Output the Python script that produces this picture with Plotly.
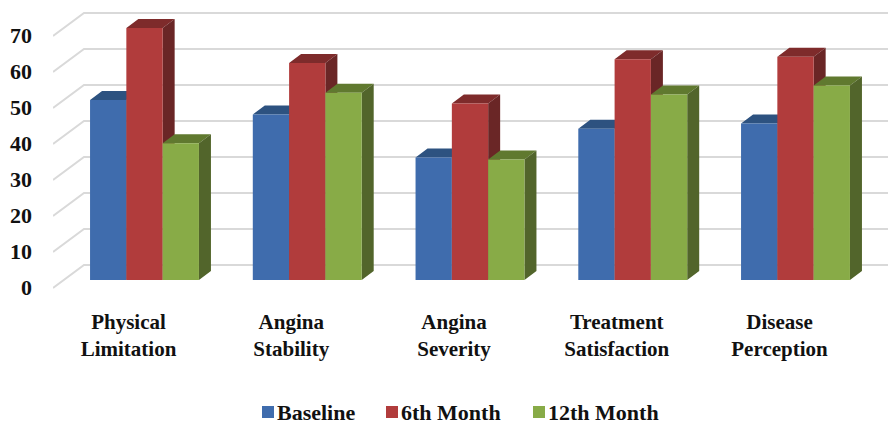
import plotly.graph_objects as go

# Survey domains and scores per follow-up time
categories = ["Physical<br>Limitation", "Angina<br>Stability", "Angina<br>Severity",
              "Treatment<br>Satisfaction", "Disease<br>Perception"]
baseline = [50, 46, 34, 42, 43.5]
month_6 = [70, 60.3, 49, 61.3, 62]
month_12 = [38, 52, 33.5, 51.5, 54]
y_ticks = [0, 10, 20, 30, 40, 50, 60, 70]

W, H = 888, 424
PITCH = 162.75            # pixels between category centres
CENTER0 = 144.5           # pixel of the first category centre
PX_PER_UNIT = 3.6         # pixels per score unit
BASE_PX = 280             # pixel row of score 0 on the bars' front plane
LEFT, BOTTOM = 53, 290    # plot area limits in pixels

x_lo = (LEFT - CENTER0) / PITCH
x_hi = (W - CENTER0) / PITCH
y_lo = (BASE_PX - BOTTOM) / PX_PER_UNIT
y_hi = BASE_PX / PX_PER_UNIT

BAR_W = 36.3 / PITCH      # width of one bar in category units
DEPTH_X = 12 / PITCH      # oblique depth of a bar
DEPTH_Y = 9 / PX_PER_UNIT
WALL_BACK_X = (84 - CENTER0) / PITCH
WALL_BACK_Y = (BASE_PX - 265) / PX_PER_UNIT
WALL_FRONT_Y = (BASE_PX - 288) / PX_PER_UNIT
TICK_Y = (BASE_PX - 287) / PX_PER_UNIT
LABEL_SHIFT = -16 / PITCH

series = [
    ("Baseline", baseline, "#3f6cad", "#2d5280", "#2b4a74"),
    ("6th Month", month_6, "#b13c3c", "#7e2b2b", "#6a2626"),
    ("12th Month", month_12, "#88ab47", "#60792f", "#52652b"),
]

fig = go.Figure()

# Floor edge and back wall gridlines
grid_x, grid_y = [], []
for v in y_ticks:
    grid_x += [x_lo, WALL_BACK_X, x_hi, None]
    grid_y += [v + WALL_FRONT_Y, v + WALL_BACK_Y, v + WALL_BACK_Y, None]
fig.add_trace(go.Scatter(x=grid_x, y=grid_y, mode="lines", showlegend=False, hoverinfo="skip",
                         line=dict(color="#d9d9d9", width=2)))


def face(xs, ys, color, name):
    fig.add_trace(go.Scatter(x=xs, y=ys, mode="lines", fill="toself", fillcolor=color,
                             line=dict(width=0, color=color), name=name,
                             showlegend=False, hoverinfo="skip"))


# Series are painted left to right so each bar hides the sides of its left neighbour
for s, (name, values, front, top, side) in enumerate(series):
    fx, fy, tx, ty, sx, sy = [], [], [], [], [], []
    for i, v in enumerate(values):
        left = i + (s - 1.5) * BAR_W
        right = left + BAR_W
        fx += [left, right, right, left, left, None]
        fy += [0, 0, v, v, 0, None]
        tx += [left, right, right + DEPTH_X, left + DEPTH_X, left, None]
        ty += [v, v, v + DEPTH_Y, v + DEPTH_Y, v, None]
        sx += [right, right + DEPTH_X, right + DEPTH_X, right, right, None]
        sy += [0, DEPTH_Y, v + DEPTH_Y, v, 0, None]
    face(tx, ty, top, name + " top")
    face(sx, sy, side, name + " side")
    face(fx, fy, front, name)

label_font = dict(family="Liberation Serif", size=21, color="#111111", weight=700)

fig.update_xaxes(range=[x_lo, x_hi], showgrid=False, zeroline=False, showline=False,
                 tickmode="array", tickvals=[i + LABEL_SHIFT for i in range(len(categories))],
                 ticktext=categories, tickfont=label_font, ticks="", ticklabelstandoff=17,
                 automargin=False, fixedrange=True)
fig.update_yaxes(range=[y_lo, y_hi], showgrid=False, zeroline=False, showline=False,
                 tickmode="array", tickvals=[v + TICK_Y for v in y_ticks],
                 ticktext=[str(v) for v in y_ticks],
                 tickfont=dict(label_font, size=22), ticks="", ticklabelstandoff=20,
                 automargin=False, fixedrange=True)

# Legend row: colour key squares with their labels
key_squares = [262, 386, 533]
shapes, annotations = [], []
for key_x, (name, _, front, _, _) in zip(key_squares, series):
    shapes.append(dict(type="rect", xref="paper", yref="paper", layer="above",
                       x0=(key_x - LEFT) / (W - LEFT), x1=(key_x + 12 - LEFT) / (W - LEFT),
                       y0=(BOTTOM - 418) / (BOTTOM), y1=(BOTTOM - 406) / (BOTTOM),
                       fillcolor=front, line=dict(width=0)))
    annotations.append(dict(xref="paper", yref="paper", xanchor="left", yanchor="middle",
                            x=(key_x + 13 - LEFT) / (W - LEFT), y=(BOTTOM - 412) / BOTTOM,
                            text=name, showarrow=False, font=dict(label_font, size=22)))

fig.update_layout(width=W, height=H, margin=dict(l=LEFT, r=0, t=0, b=H - BOTTOM),
                  paper_bgcolor="white", plot_bgcolor="white", showlegend=False,
                  shapes=shapes, annotations=annotations)

fig.write_html("out.html")
